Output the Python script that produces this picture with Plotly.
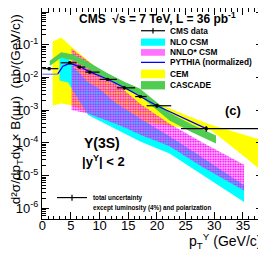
import plotly.graph_objects as go

# ---------------- data ----------------
# CMS data
data_pt = [1.2, 4.8, 6.5, 8.3, 11.4, 14.3, 17.1, 20.0, 28.6]
data_lo = [0.0, 3.2, 6.0, 7.5, 10.0, 13.0, 16.2, 18.2, 24.2]
data_hi = [2.8, 6.0, 7.5, 10.0, 13.0, 16.2, 18.2, 22.5, 38.5]
data_y = [0.0185, 0.028, 0.0207, 0.0145, 0.0087, 0.0048, 0.0026, 0.00136, 0.00027]
data_rel_err = [0.12, 0.10, 0.10, 0.10, 0.10, 0.12, 0.12, 0.15, 0.20]

# PYTHIA (normalized)
py_low_pt = [0.0, 2.7]
py_low_y = [0.0125, 0.0125]
py_pt = [2.7, 3.6, 4.8, 6.5, 8.3, 11.4, 14.3, 17.1, 20.0, 28.6]
py_y = [0.0128, 0.022, 0.027, 0.0215, 0.0148, 0.0088, 0.0049, 0.0026, 0.00136, 0.00027]

# CEM band
cem_pt = [1.8, 3.3, 5.0, 7.0, 10.0, 15.0, 20.0, 25.0, 29.5, 35.5, 38.5]
cem_up = [0.126, 0.166, 0.089, 0.0447, 0.0166, 0.00447, 0.00166, 7.1e-4, 3.5e-4, 1.7e-4, 1.17e-4]
cem_lo = [1.38e-3, 1.58e-3, 1.41e-3, 1.0e-3, 6.3e-4, 5.0e-4, 3.8e-4, 2.8e-4, 2.4e-4, 3.5e-5, 1.26e-5]

# NLO CSM band
nlo_pt = [3.0, 4.5, 5.0, 8.0, 10.0, 12.6, 17.0, 22.2, 28.0, 35.2]
nlo_up = [0.0468, 0.0417, 0.0251, 0.0071, 0.00447, 0.00178, 5.6e-4, 1.58e-4, 3.5e-5, 5.0e-6]
nlo_lo = [0.0081, 0.0070, 0.0050, 7.1e-4, 4.5e-4, 2.75e-4, 1.12e-4, 4.7e-5, 1.0e-5, 1.55e-6]

# NNLO* CSM band
nnlo_pt = [5.1, 8.0, 11.0, 14.0, 17.0, 22.2, 28.0, 35.2]
nnlo_up = [0.0759, 0.0316, 0.0126, 0.00447, 0.00158, 3.8e-4, 1.0e-4, 2.14e-5]
nnlo_lo = [1.0e-3, 7.9e-4, 5.0e-4, 3.16e-4, 1.78e-4, 7.9e-5, 1.78e-5, 3.5e-6]

# CASCADE band
cas_pt = [1.3, 3.3, 5.4, 8.3, 11.4, 14.3, 17.0, 20.0, 22.2, 26.0, 30.3]
cas_up = [0.0324, 0.0589, 0.0501, 0.0275, 0.0135, 0.00741, 0.00457, 0.0017, 8.3e-4, 3.7e-4, 1.66e-4]
cas_lo = [0.0224, 0.0407, 0.0331, 0.0174, 0.0085, 0.00447, 0.00275, 0.00102, 4.8e-4, 2.14e-4, 9.5e-5]

x_ticks = [0, 5, 10, 15, 20, 25, 30, 35]
y_tickvals = [1e-6, 1e-5, 1e-4, 1e-3, 1e-2, 1e-1, 1]
y_ticktext = ["10<sup>-6</sup>", "10<sup>-5</sup>", "10<sup>-4</sup>", "10<sup>-3</sup>",
              "10<sup>-2</sup>", "10<sup>-1</sup>", "1"]

FONT = "Liberation Sans, Arial, Helvetica, sans-serif"

C_CEM = "#ffff00"
C_NLO = "#00ffff"
C_NNLO = "#ff00ff"
C_CAS = "#50cc50"
C_PY = "#0000ff"


def band(x, up, lo):
    return list(x) + list(x)[::-1], list(up) + list(lo)[::-1]


fig = go.Figure()

bx, by = band(cem_pt, cem_up, cem_lo)
fig.add_trace(go.Scatter(x=bx, y=by, fill="toself", fillcolor=C_CEM, line=dict(width=0),
                         mode="lines", hoverinfo="skip", showlegend=False))
bx, by = band(nlo_pt, nlo_up, nlo_lo)
fig.add_trace(go.Scatter(x=bx, y=by, fill="toself", fillcolor=C_NLO, line=dict(width=0),
                         mode="lines", hoverinfo="skip", showlegend=False))
bx, by = band(nnlo_pt, nnlo_up, nnlo_lo)
fig.add_trace(go.Scatter(x=bx, y=by, fill="toself", line=dict(width=0),
                         fillpattern=dict(shape=".", fgcolor=C_NNLO, size=2.5, solidity=0.55),
                         mode="lines", hoverinfo="skip", showlegend=False))
bx, by = band(cas_pt, cas_up, cas_lo)
fig.add_trace(go.Scatter(x=bx, y=by, fill="toself", fillcolor=C_CAS, line=dict(width=0),
                         mode="lines", hoverinfo="skip", showlegend=False))

fig.add_trace(go.Scatter(x=py_low_pt, y=py_low_y, mode="lines",
                         line=dict(color="#7f7fff", width=1.3), showlegend=False))
fig.add_trace(go.Scatter(x=py_pt, y=py_y, mode="lines",
                         line=dict(color=C_PY, width=1.3), showlegend=False))

err_plus = [h - p for h, p in zip(data_hi, data_pt)]
err_minus = [p - l for p, l in zip(data_pt, data_lo)]
ey = [y * r for y, r in zip(data_y, data_rel_err)]
fig.add_trace(go.Scatter(
    x=data_pt, y=data_y, mode="markers",
    marker=dict(symbol="square", size=3, color="black"),
    error_x=dict(type="data", symmetric=False, array=err_plus, arrayminus=err_minus,
                 color="black", thickness=1.2, width=0),
    error_y=dict(type="data", array=ey, color="black", thickness=1.2, width=0),
    showlegend=False))

# ---------------- layout ----------------
# the page body adds an 8 px offset; figure is sized/placed to compensate
OFF = 8
W, H = 266 - OFF, 256 - OFF
L, R, T, B = 42 - OFF, 263 - OFF, 0, 218.7 - OFF


def px(xp):
    return (xp - OFF - L) / (R - L)


def py(yp):
    return (B - (yp - OFF)) / (B - T)


fig.update_layout(
    template="none",
    width=W, height=H,
    margin=dict(l=L, r=W - R, t=T, b=H - B, pad=0, autoexpand=False),
    paper_bgcolor="white", plot_bgcolor="white",
    font=dict(family=FONT, color="black"),
    showlegend=False,
)
fig.update_xaxes(
    automargin=False,
    range=[-0.05, 38.5], tickvals=x_ticks, ticks="inside", ticklen=7, tickwidth=1,
    tickcolor="black", showline=True, linecolor="black", linewidth=1, mirror="ticks",
    showgrid=False, zeroline=False, tickfont=dict(size=13, family=FONT),
    ticklabelstandoff=-6,
    minor=dict(ticks="inside", ticklen=3.5, dtick=1, tickcolor="black", showgrid=False),
)
fig.update_yaxes(
    automargin=False,
    type="log", range=[-6.33, 0.1226], tickmode="array", tickvals=y_tickvals,
    ticktext=y_ticktext, ticks="inside", ticklen=7, tickwidth=1, tickcolor="black",
    showline=True, linecolor="black", linewidth=1, mirror="ticks", showgrid=False,
    zeroline=False, tickfont=dict(size=13, family=FONT),
    minor=dict(ticks="inside", ticklen=3.5, dtick="D1", tickcolor="black", showgrid=False),
)

ann = []


def text(xp, yp, s, size, anchor="left", angle=0, yanchor="middle"):
    ann.append(dict(x=px(xp), y=py(yp), xref="paper", yref="paper", text=s,
                    showarrow=False, xanchor=anchor, yanchor=yanchor, textangle=angle,
                    font=dict(size=size, family=FONT, color="black")))


text(77, 18, "<b>CMS  \u221as = 7 TeV, L = 36 pb<sup>-1</sup></b>", 12)
text(233, 110, "<b>(c)</b>", 13, anchor="center")
text(102, 143, "<b>\u03a5(3S)</b>", 14, anchor="center")
text(103, 161, "<b>|y<sup>\u03a5</sup>| < 2</b>", 13, anchor="center")
text(91, 197.3, "<b>total uncertainty</b>", 6.3)
text(91, 207.7, "<b>except luminosity (4%) and polarization</b>", 6.3)
text(263, 241, "p<sub>T</sub><sup>\u03a5</sup> (GeV/c)", 14, anchor="right")
text(16, 109, "d\u00b2\u03c3/dp<sub>T</sub>dy \u00d7 B(\u03bc\u03bc)  (nb/(GeV/c))", 13.5,
     anchor="center", angle=-90)

leg_y = [30.7, 42, 52.3, 62.3, 73.7, 85]
leg_txt = ["CMS data", "NLO CSM", "NNLO* CSM", "PYTHIA (normalized)", "CEM", "CASCADE"]
for yy, t in zip(leg_y, leg_txt):
    text(168, yy, "<b>" + t + "</b>", 8.3)

fig.update_layout(annotations=ann)

shapes = []


def line(x0, y0, x1, y1, color="black", w=1.2):
    shapes.append(dict(type="line", xref="paper", yref="paper", x0=px(x0), y0=py(y0),
                       x1=px(x1), y1=py(y1), line=dict(color=color, width=w)))


def box(x0, y0, x1, y1, color):
    shapes.append(dict(type="rect", xref="paper", yref="paper", x0=px(x0), y0=py(y0),
                       x1=px(x1), y1=py(y1), fillcolor=color, line=dict(width=0)))


# legend symbols
line(141, 30.7, 165, 30.7)
line(153, 28, 153, 33.5)
box(141, 38.5, 165, 45.7, C_NLO)
box(141, 49, 165, 55.7, "rgba(255,0,255,0.55)")
line(141, 62.3, 165, 62.3, C_PY, 1.3)
box(141, 69.5, 165, 78.2, C_CEM)
box(141, 81, 165, 89.3, C_CAS)
# bottom uncertainty note
line(57, 197.3, 87, 197.3)
line(72, 194.5, 72, 200.5)

fig.update_layout(shapes=shapes)

fig.write_html("out.html")
